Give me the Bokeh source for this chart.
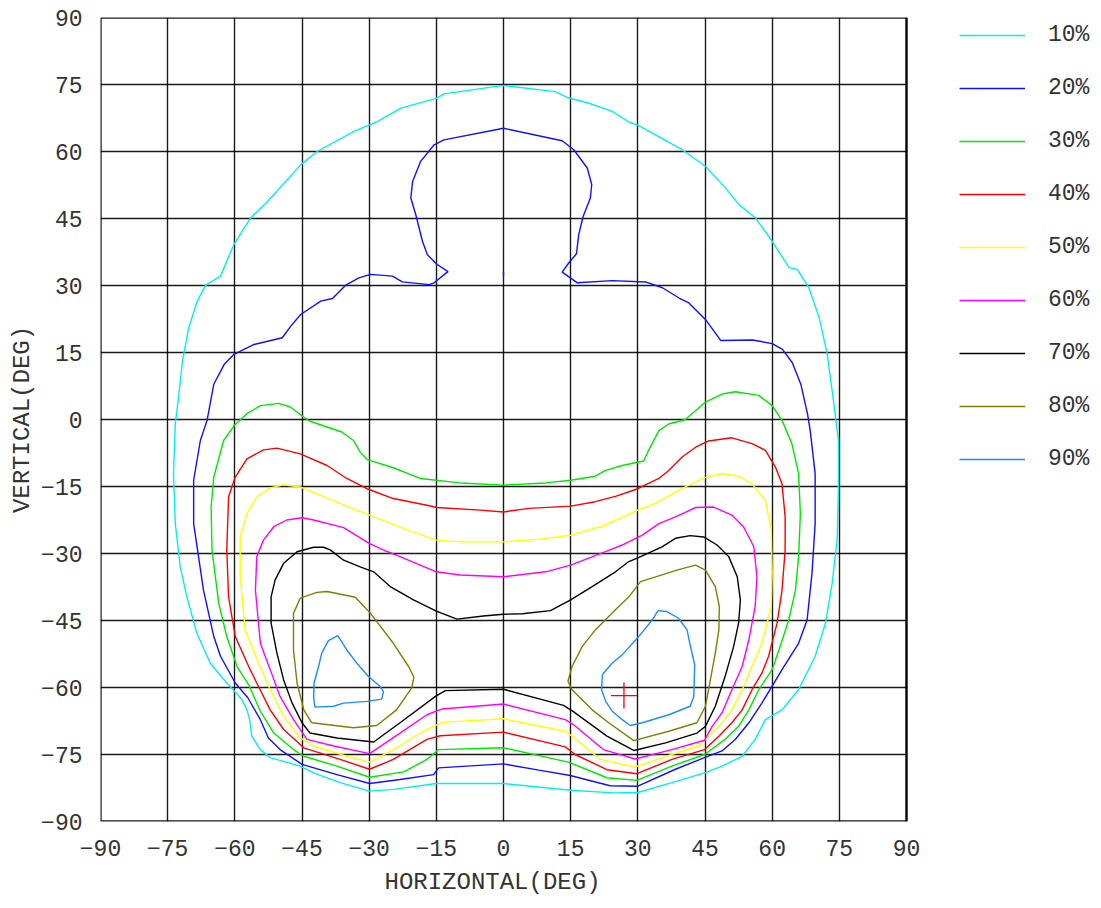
from bokeh.plotting import figure
from bokeh.models import FixedTicker, Legend, LegendItem, Range1d, Title
from bokeh.embed import file_html
from bokeh.resources import INLINE

# ---------------- data (degrees) ----------------
levels = ["10%", "20%", "30%", "40%", "50%", "60%", "70%", "80%", "90%"]
level_colors = ["#00f0f0", "#1010ff", "#00e800", "#ff0000", "#ffff00",
                "#ff00ff", "#000000", "#808000", "#1e8cff"]
ticks = list(range(-90, 91, 15))
x_title = "HORIZONTAL(DEG)"
y_title = "VERTICAL(DEG)"

c10_x = [0, -13.3, -15, -22.9, -28.2, -33.4, -41.6, -45.3, -52.7, -56.5, -60.2, -63.2, -66.5, -68.4,
         -70.3, -71.7, -72.5, -73.3, -73.7, -73.3, -72.2, -70.7, -68.5, -65.5, -61.8, -58.4, -57.3,
         -56.7, -56.2, -54.3, -52.1, -45.4, -42.4, -36.5, -29.9, -24.6, -15, 0, 15, 24.6, 30, 37.6,
         44.9, 48.8, 53.3, 56.2, 57.7, 58.5, 62.2, 65.9, 69.6, 71.9, 73.4, 74.5, 74.8, 74.8, 73.5,
         72.3, 70.5, 68.2, 65.6, 63.8, 60, 56.3, 52.6, 49.6, 45.1, 39.9, 30.2, 28, 24.3, 19.1, 14.2,
         11.6, 0]
c10_y = [74.8, 72.9, 71.9, 69.7, 66.7, 64.5, 60, 57, 48.8, 45.1, 39.2, 32.1, 30.1, 26.5,
         20.5, 13.1, 5.6, -1, -12.1, -23.3, -33, -39.7, -47.8, -54.5, -59, -62.7, -65,
         -67.2, -70.9, -73.9, -75.7, -77.6, -79.1, -81.3, -83.2, -82.8, -81.5, -81.5, -83, -83.6, -83.5, -81.3,
         -79.1, -77.6, -75.4, -71.6, -68.7, -67.2, -65, -60.5, -53, -45.6, -36.7, -27, -15.8, -4.7, 5.6,
         14.6, 22.8, 29.5, 33.6, 34, 39.9, 45.1, 48.1, 51.8, 56.7, 60.4, 65.8, 66.6, 69, 70.8, 72.1,
         73.4, 74.8]

c20_x = [0, -13.3, -15.5, -18.5, -20.3, -20.7, -19.6, -18.1, -17, -14.8, -12.4, -15.5, -16.6, -22.6,
         -24.8, -29.7, -32.3, -35.2, -38.2, -40.8, -45.3, -47.5, -49.4, -55.7, -60.2, -62.4, -64.7,
         -66.2, -67.7, -69.2, -69.2, -67, -64.7, -63.2, -59.9, -57.1, -54.3, -52.5, -49.9, -45, -37.2,
         -29.9, -23.1, -15.6, -14.5, 0, 7.9, 14.9, 23.8, 30, 38.4, 44.9, 48.8, 51.8, 54.8, 57.7, 60, 62.2,
         65.9, 67.8, 68.9, 69.6, 69.6, 68.5, 67.9, 66.4, 64.5, 62.3, 60, 55.6, 48.5, 45.1, 41.4, 39.2,
         35.5, 31.7, 24.3, 16.5, 13.1, 14.6, 16.3, 16.8, 17.8, 19.4, 19.7, 18.7, 15.7, 13.1, 0]
c20_y = [65.2, 62.6, 61.5, 57.8, 53.3, 49.6, 45.9, 39.9, 36.9, 34.7, 33.1, 30.6, 30.2, 30.8,
         32.1, 32.5, 31.7, 30.1, 27.1, 26.5, 23.5, 20.9, 18.3, 16.8, 14.6, 12.3, 7.9,
         -0.2, -4.7, -13.6, -23.3, -38.2, -48.6, -53, -59, -62.3, -67.2, -71.3, -73.9, -77.2, -79.5,
         -81.5, -80.6, -79.5, -78, -77.1, -78.5, -79.7, -82, -82.1, -78.3, -75.7, -74.2, -71.6, -67.9, -63.5, -59.7, -56,
         -50.1, -44.9, -34.4, -23.3, -12.1, -2.5, 1.2, 7.9, 12.7, 15.7, 17, 17.8, 17.7, 22.4, 26.1, 27.2,
         29.5, 30.8, 31.1, 30.6, 33, 35.1, 37.1, 41.4, 45.5, 49.6, 52.6, 56.3, 60.4, 62.4, 65.2]
c20_dot_x = [0, 0]
c20_dot_y = [32.2, 33.0]

c30_x = [0, -9.7, -18.6, -24.6, -30.4, -32, -33.5, -36.1, -43.2, -44.6, -47.6, -50.2, -54.3, -57.3,
         -60.1, -62.5, -64.7, -65.3, -65.1, -63.6, -61.8, -59.5, -56.9, -54.3, -51.3, -46.9, -44.6,
         -37.2, -29.9, -22.3, -17.1, -14.5, 0, 14.5, 23.1, 29.8, 37.6, 44.9, 49.5, 52.5, 54.8, 57, 60, 61.5,
         63.7, 65.2, 65.9, 66.3, 65.9, 64.4, 62.2, 60, 57, 51.8, 48.8, 45.1, 40.6, 36.9, 34.7, 32.4,
         31.3, 26.5, 22.8, 20.5, 15, 9.4, 0]
c30_y = [-14.7, -14.2, -13.2, -10.8, -9, -7.3, -4.7, -2.8, -0.4, 0.5, 2.8, 3.6, 3.1, 1.3,
         -1.3, -4.7, -12.9, -19.6, -29.2, -41.1, -48.6, -55.3, -59.4, -65.3, -70.2, -73.9, -75.4,
         -77.6, -80.1, -78.9, -76.1, -73.9, -73.5, -76.7, -80.2, -80.8, -77.6, -75, -71.6, -68.7, -65, -60.5, -56, -51.6,
         -44.9, -38.2, -30.7, -21.1, -12.1, -5.4, -0.2, 3.1, 5.4, 6.2, 5.7, 3.9, 0, -1, -2.5, -6.9,
         -9.3, -10.3, -11.4, -12.7, -13.6, -14.2, -14.7]

c40_x = [0, -5.2, -14.9, -17.1, -24.6, -30.5, -35, -39.4, -45.4, -50.6, -53.6, -57.3, -59.9, -61.4,
         -61.8, -61.4, -59.9, -56.9, -55.1, -52.1, -49.1, -44.6, -36.5, -29.9, -24.6, -17.1, -14.1, 0,
         13.8, 16, 23.1, 29.8, 37.6, 44.9, 48.1, 51, 53.3, 55.5, 57.7, 59.2, 61.1, 62.2, 62.9, 62.9, 62.2,
         60.7, 58.5, 55.5, 51, 45.8, 42.9, 39.9, 36.9, 34.7, 30, 25, 20.5, 15, 5.7, 0]
c40_y = [-20.7, -20.3, -19.7, -19.2, -17.7, -15.5, -13.2, -10.3, -7.7, -6.4, -6.8, -8.8, -12.9, -17.3,
         -29.2, -39.7, -48.6, -55.3, -59, -65, -69.4, -73.5, -76.1, -78.3, -76.1, -71.6, -70.8, -70,
         -73.3, -75, -78.4, -79.3, -76.1, -73.9, -70.9, -67.9, -65, -60.5, -56.8, -53, -45.6, -38.2, -29.2, -21.8, -14.4,
         -10.6, -6.9, -5.4, -4.1, -4.8, -6.2, -8.4, -11.4, -13.2, -15.5, -17.2, -18.4, -19.4, -19.9, -20.7]

c50_x = [0, -9.7, -15, -23.1, -29.9, -36.5, -45.4, -49.1, -52.1, -55.1, -57.3, -58.8, -58.8, -57.7,
         -54.7, -52.1, -49.1, -45.4, -42.4, -35, -29.9, -24.6, -17.9, -13.7, 0, 13.8, 15.6, 21.6, 29.4, 37.6, 43.6,
         48.1, 51, 53.3, 55.5, 57.7, 59.8, 60, 59.8, 58.5, 55.5, 52.5, 48.8, 44.9, 40.6, 33.9, 30, 22,
         15, 7.1, 0]
c50_y = [-27.4, -27.4, -27, -24.1, -21.4, -18.8, -15.1, -14.6, -15.3, -17.3, -21.1, -26.3, -35.2, -47.1,
         -54.5, -60.5, -66.4, -71.3, -73.1, -75.4, -76.7, -73.9, -69.8, -67.8, -67, -69.8, -71.1, -76.1, -77.8, -75, -73.1,
         -68.7, -65, -60.5, -55.3, -50.1, -41.9, -34.4, -24.8, -18.1, -14.4, -12.7, -12.1, -13, -15.1, -18.8, -20.3, -23.9,
         -25.9, -26.9, -27.4]

c60_x = [0, -9.7, -15, -23.1, -26.1, -29.9, -35.7, -42.4, -45, -48.4, -51.3, -53.6, -55.1, -55.4,
         -54.3, -52.1, -49.9, -46.9, -43.9, -37.9, -29.9, -23.1, -17.1, -13.7, 0, 13.8, 15.6, 22.3, 29.4, 37.6,
         44.9, 46.6, 48.8, 51, 53.3, 54.8, 56.2, 56.6, 55.9, 53.6, 51, 46.9, 42.9, 38.4, 34.7, 31,
         26.5, 22.8, 15, 9.4, 0]
c60_y = [-35.2, -34.8, -34.1, -30.7, -29.5, -27.8, -24.2, -22.5, -22, -22.5, -24, -27, -30.7, -38.2,
         -50.1, -56, -62, -67.2, -71.6, -73.1, -74.8, -70.2, -66.1, -64.8, -63.7, -67.2, -68.3, -73.9, -76, -73.9,
         -71.8, -68.7, -65.7, -60.5, -55.3, -49.3, -41.9, -35.2, -28.5, -24, -21.4, -19.6, -19.7, -21.8, -23.3, -25.9,
         -28.1, -29.6, -32.6, -34.1, -35.2]

c70_x = [0, -4.5, -10.4, -15, -20.1, -25.3, -29, -32, -35.7, -38.7, -40.2, -42.4, -46.1, -49.1,
         -51, -51.9, -51.9, -50.6, -49.1, -47.2, -45, -43.2, -37.2, -29, -23.1, -15.2, -13, 0, 13.4,
         15.6, 23.1, 29.1, 36.2, 43.2, 45.1, 47.3, 49.5, 51.4, 52.5, 52.9, 52.2, 50.3, 47.7, 44.7,
         41.7, 38.4, 35.4, 30, 28, 25, 19.8, 15, 10.5, 4.2, 0]
c70_y = [-43.6, -44, -44.7, -42.9, -40.4, -37.4, -34.1, -33, -31.5, -29.2, -28.6, -28.6, -29.6, -32.2,
         -35.9, -39.7, -45.6, -52.3, -58.3, -63.5, -67.9, -70.2, -71.3, -72.2, -67.9, -62, -60.7, -60.4, -64,
         -65.4, -70.9, -74.1, -72.4, -70.2, -68.7, -64.2, -57.5, -50.8, -45.6, -40.4, -35.2, -30.7, -28.1, -26.3,
         -26, -26.6, -28.5, -31, -31.8, -34.1, -37.4, -40.4, -42.8, -43.5, -43.6]

c80a_x = [-41.7, -39.4, -33.1, -29.7, -24.6, -21.2, -20, -20.5, -23.9, -28.3, -33.5, -42.8, -44.6,
          -46.1, -46.9, -46.9, -45.4, -41.7]
c80a_y = [-38.7, -38.5, -39.8, -43.4, -50.1, -55.3, -57.7, -60.1, -65, -68.5, -69, -67.9, -65,
          -59, -51.6, -43.4, -40, -38.7]
c80b_x = [30.6, 35.4, 39.1, 42.9, 45.1, 47.3, 48.2, 48.1, 47.3, 46.2, 45.1, 43.2, 36.9, 29.1, 23.5,
          19.8, 15.3, 14.4, 15.3, 17.6, 20.5, 25, 28, 30.6]
c80b_y = [-36.3, -34.8, -33.6, -32.6, -33.7, -37.4, -41.9, -47.1, -52.3, -58.3, -64.2, -67.9, -69.8, -71.9, -67.9,
          -65, -60.5, -58.6, -55.3, -50.8, -47.1, -42.6, -39.7, -36.3]

c90a_x = [-37, -39.1, -40.6, -41.3, -42.3, -42.4, -42.1, -38, -35.7, -30.5, -27.2, -26.8, -27.6,
          -30.2, -32.8, -35, -37]
c90a_y = [-48.4, -49.5, -52.3, -55.3, -59, -62.3, -64.4, -64.2, -63.5, -63.1, -62.6, -60.9, -59.7,
          -57.5, -54.5, -51.6, -48.4]
c90b_x = [34.5, 36.5, 39.1, 41, 41.6, 42.7, 42.5, 41.7, 36.9, 31, 28.3, 26.5, 24.3, 22.8, 21.9,
          22.1, 24.3, 26.5, 30.2, 33.2, 34.5]
c90b_y = [-42.8, -43, -44.5, -47.1, -50.1, -54.9, -62, -64.2, -66.1, -67.9, -68.5, -67.2, -65.3, -63.1, -60.5,
          -57.1, -54.5, -52.7, -48.6, -44.9, -42.8]

peak_x = [26.9]
peak_y = [-61.8]

contours = [
    [(c10_x, c10_y)],
    [(c20_x, c20_y), (c20_dot_x, c20_dot_y)],
    [(c30_x, c30_y)],
    [(c40_x, c40_y)],
    [(c50_x, c50_y)],
    [(c60_x, c60_y)],
    [(c70_x, c70_y)],
    [(c80a_x, c80a_y), (c80b_x, c80b_y)],
    [(c90a_x, c90a_y), (c90b_x, c90b_y)],
]

# ---------------- layout constants ----------------
FONT = "Liberation Mono"
TXT = "#333333"
W, H = 1095, 905
BL, BT = 100, 17            # left / top border (px)
PLOT_PX = 806               # pixels spanned by -90..90
FRAME_W = W - BL            # frame extends under the legend area
FRAME_H = 804
lo, hi = ticks[0], ticks[-1]
x_end = lo + FRAME_W * (hi - lo) / PLOT_PX

p = figure(width=W, height=H, x_range=Range1d(lo, x_end), y_range=Range1d(lo, hi),
           output_backend="svg", toolbar_location=None,
           min_border_left=BL, min_border_top=BT, min_border_right=0,
           min_border_bottom=H - BT - FRAME_H)
p.background_fill_color = "white"
p.border_fill_color = "white"
p.outline_line_color = None

for ax in (p.xaxis[0], p.yaxis[0]):
    ax.ticker = FixedTicker(ticks=ticks)
    ax.bounds = (lo, hi)
    ax.major_tick_line_color = None
    ax.minor_tick_line_color = None
    ax.axis_line_color = None
    ax.major_label_text_font = FONT
    ax.major_label_text_font_size = "23px"
    ax.major_label_text_color = TXT
    ax.axis_label_text_font = FONT
    ax.axis_label_text_font_size = "24px"
    ax.axis_label_text_font_style = "normal"
    ax.axis_label_text_color = TXT
p.yaxis.axis_label = y_title
p.xaxis.major_label_standoff = 12
p.yaxis.major_label_standoff = 12
p.yaxis.axis_label_standoff = 2

# x-axis title: centred under the -90..90 square (frame is wider because of the legend)
xt = Title(text=x_title, align="left", offset=284, standoff=16,
           text_font=FONT, text_font_size="24px", text_font_style="normal", text_color=TXT)
p.add_layout(xt, "below")

p.xgrid.ticker = FixedTicker(ticks=ticks)
p.ygrid.ticker = FixedTicker(ticks=ticks)
p.xgrid.bounds = (lo, hi)
p.ygrid.bounds = (lo, hi)
p.ygrid.cross_bounds = (lo, hi)
p.xgrid.cross_bounds = (lo, hi)
for g in (p.xgrid, p.ygrid):
    g.grid_line_color = "black"
    g.grid_line_width = 1.4
    g.grid_line_alpha = 0.9

# plot border (box around the -90..90 square)
p.quad(left=[lo], right=[hi], bottom=[lo], top=[hi], fill_color=None,
       line_color="black", line_width=2.4, line_alpha=0.9)

items = []
for lab, col, pieces in zip(levels, level_colors, contours):
    rends = [p.line(xs, ys, line_color=col, line_width=1.4) for xs, ys in pieces]
    items.append(LegendItem(label=lab, renderers=[rends[0]]))

p.scatter(peak_x, peak_y, marker="cross", size=26, line_color="red", line_width=1.3)

# legend at the right of the square, inside the (extended) frame
item_h, gap = 26, 27
n = len(levels)
leg_h = n * item_h + (n - 1) * gap
first_center = 35 - BT
leg_x = 959 - BL
leg_y = FRAME_H - (first_center - item_h / 2) - leg_h
legend = Legend(items=items, location=(leg_x, int(round(leg_y))), orientation="vertical",
                glyph_width=66, glyph_height=item_h, label_height=item_h, spacing=gap,
                label_standoff=23, padding=0, margin=0,
                label_text_font=FONT, label_text_font_size="23px", label_text_color=TXT,
                border_line_color=None, background_fill_alpha=0)
p.add_layout(legend, "center")

open("out.html", "w").write(file_html(p, INLINE))
